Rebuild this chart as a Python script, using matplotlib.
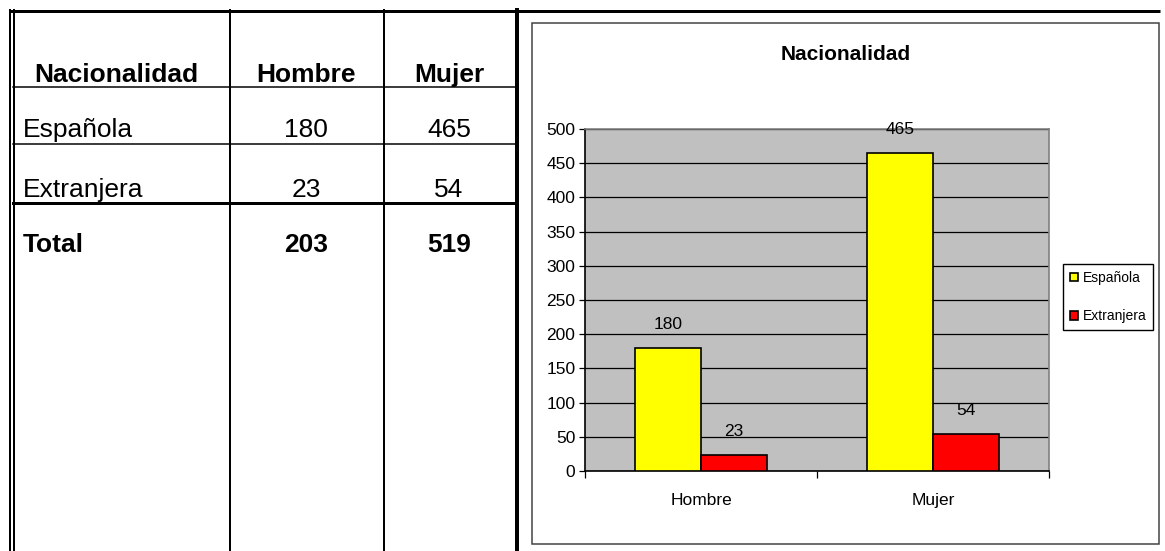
import numpy as np
import matplotlib
matplotlib.use("Agg")
import matplotlib.pyplot as plt
from matplotlib.patches import Rectangle
from matplotlib import font_manager

# data
categorias = ["Hombre", "Mujer"]
nacionalidades = ["Española", "Extranjera"]
espanola = [180, 465]
extranjera = [23, 54]
totales = [203, 519]
colores = ["#FFFF00", "#FF0000"]

W, H = 1165, 551
arial = ["Liberation Sans", "DejaVu Sans"]

# the chart uses a narrow font; fall back to Arial-like if none installed
instaladas = {f.name for f in font_manager.fontManager.ttflist}
if "Liberation Sans Narrow" in instaladas:
    narrow, k = ["Liberation Sans Narrow", "DejaVu Sans"], 1.15
else:
    narrow, k = arial, 1.0

fig = plt.figure(figsize=(W / 100, H / 100), dpi=100)
fig.patch.set_facecolor("white")

# background layer in pixel coordinates for the table and frames
bg = fig.add_axes([0, 0, 1, 1], zorder=0)
bg.set_xlim(0, W)
bg.set_ylim(H, 0)
bg.axis("off")

px = 0.72  # one pixel in points
bg.plot([9, 1160], [11, 11], color="black", lw=3 * px, solid_capstyle="butt")
bg.plot([10, 10], [10, H], color="black", lw=2 * px)
bg.plot([13.5, 13.5], [10, H], color="black", lw=2 * px)
for xl in [230, 384]:
    bg.plot([xl, xl], [10, H], color="black", lw=2 * px)
bg.plot([517, 517], [10, H], color="black", lw=4 * px)
bg.plot([13, 517], [87, 87], color="black", lw=1.5 * px)
bg.plot([13, 517], [144, 144], color="black", lw=1.5 * px)
bg.plot([13, 517], [202.5, 202.5], color="black", lw=3 * px)

# table text
col_h = [306, 449]
fs = 19
bg.text(116, 82, "Nacionalidad", ha="center", va="baseline", fontsize=fs,
        fontweight="bold", family=arial)
for i, c in enumerate(categorias):
    bg.text(col_h[i], 82, c, ha="center", va="baseline", fontsize=fs,
            fontweight="bold", family=arial)
filas = [(nacionalidades[0], espanola, 137), (nacionalidades[1], extranjera, 197)]
for nombre, vals, yb in filas:
    bg.text(23, yb, nombre, ha="left", va="baseline", fontsize=fs, family=arial)
    for i, v in enumerate(vals):
        bg.text(col_h[i], yb, str(v), ha="center", va="baseline", fontsize=fs,
                family=arial)
bg.text(23, 252, "Total", ha="left", va="baseline", fontsize=fs,
        fontweight="bold", family=arial)
for i, v in enumerate(totales):
    bg.text(col_h[i], 252, str(v), ha="center", va="baseline", fontsize=fs,
            fontweight="bold", family=arial)

# chart frame and title
bg.add_patch(Rectangle((532, 23), 1159 - 532, 544 - 23, fill=False,
                       edgecolor="#404040", lw=1.5 * px))
bg.text(846, 55, "Nacionalidad", ha="center", va="center", fontsize=15 * k,
        fontweight="bold", family=narrow)

# bar chart
left, right, top, bottom = 585, 1049, 129, 471
ax = fig.add_axes([left / W, 1 - bottom / H, (right - left) / W, (bottom - top) / H],
                  zorder=1)
ax.set_facecolor("#C0C0C0")
x = np.arange(len(categorias))
w = 0.285
b1 = ax.bar(x - w / 2, espanola, w, color=colores[0], edgecolor="black",
            lw=1.2, label=nacionalidades[0], zorder=3)
b2 = ax.bar(x + w / 2, extranjera, w, color=colores[1], edgecolor="black",
            lw=1.2, label=nacionalidades[1], zorder=3)
for bars in (b1, b2):
    for r in bars:
        ax.annotate(f"{int(r.get_height())}", (r.get_x() + r.get_width() / 2, r.get_height()),
                    xytext=(0, 17), textcoords="offset points", ha="center",
                    va="center", fontsize=12.5 * k, family=narrow, zorder=4)

ax.set_xlim(-0.5, 1.5)
ax.set_ylim(0, 500)
ax.set_yticks(np.arange(0, 501, 50))
ax.yaxis.grid(True, color="black", lw=0.9)
ax.set_axisbelow(True)
ax.tick_params(axis="y", direction="out", length=4, width=0.9, pad=3,
               labelsize=12.5 * k)
ax.set_xticks(x)
ax.set_xticklabels(categorias, fontsize=12.5 * k)
ax.set_xticks([-0.5, 0.5, 1.5], minor=True)
ax.tick_params(axis="x", which="major", length=0, pad=16)
ax.tick_params(axis="x", which="minor", direction="out", length=5, width=0.9)
for lab in ax.get_xticklabels() + ax.get_yticklabels():
    lab.set_family(narrow)
ax.spines["left"].set_color("black")
ax.spines["bottom"].set_color("black")
ax.spines["top"].set_color("#808080")
ax.spines["right"].set_color("#808080")
for s in ax.spines.values():
    s.set_linewidth(1.2)

fig.legend(handles=[b1, b2], loc="upper left",
           bbox_to_anchor=(1063 / W, 1 - 264 / H), frameon=True, fancybox=False,
           edgecolor="black", framealpha=1, prop={"family": narrow, "size": 10 * k},
           handlelength=0.6, handleheight=0.6, handletextpad=0.3,
           labelspacing=1.75, borderpad=0.5, borderaxespad=0)

fig.savefig("out.png", dpi=100)
